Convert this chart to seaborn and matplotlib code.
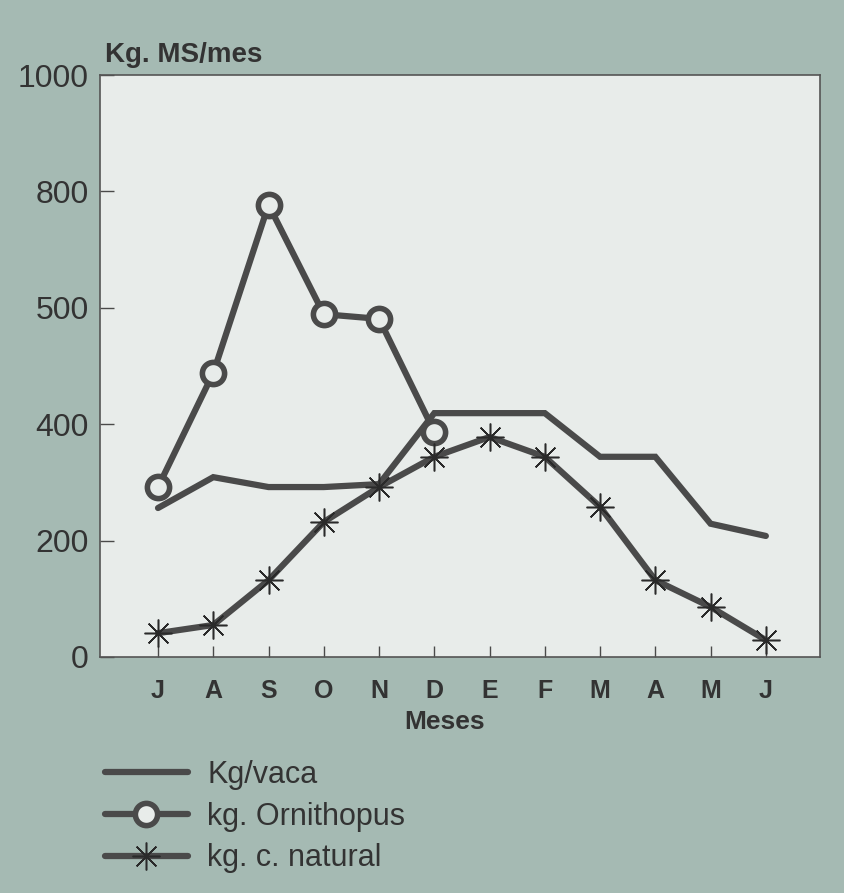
import numpy as np
import pandas as pd
import matplotlib
matplotlib.use("Agg")
import matplotlib.pyplot as plt
import seaborn as sns

meses = ["J", "A", "S", "O", "N", "D", "E", "F", "M", "A", "M", "J"]
kg_vaca = [256, 309, 292, 292, 297, 419, 419, 419, 344, 344, 229, 208]
kg_ornithopus = [292, 488, 777, 589, 581, 387]
kg_natural = [41, 55, 132, 232, 292, 344, 378, 344, 258, 132, 86, 29]
y_ticks = [0, 200, 400, 600, 800, 1000]
y_labels = ["0", "200", "400", "500", "800", "1000"]

OUTER = "#a5bab3"
INNER = "#e8ecea"
INK = "#4a4a4a"
TXT = "#333333"

sns.set_theme(style="white")
plt.rcParams["font.family"] = ["Liberation Sans", "DejaVu Sans"]

fig = plt.figure(figsize=(8.45, 8.93), dpi=100, facecolor=OUTER)
ax = fig.add_axes([100 / 845, 1 - 657 / 893, 720 / 845, 582 / 893])
ax.set_facecolor(INNER)

x_all = np.arange(len(meses))
df_vaca = pd.DataFrame({"x": x_all, "y": kg_vaca})
df_orn = pd.DataFrame({"x": x_all[:len(kg_ornithopus)], "y": kg_ornithopus})
df_nat = pd.DataFrame({"x": x_all, "y": kg_natural})

sns.lineplot(data=df_vaca, x="x", y="y", ax=ax, color=INK, lw=4.5,
             label="Kg/vaca", solid_joinstyle="miter")
sns.lineplot(data=df_orn, x="x", y="y", ax=ax, color=INK, lw=4.5,
             marker="o", markersize=16, markerfacecolor=INNER,
             markeredgecolor=INK, markeredgewidth=4, label="kg. Ornithopus")
sns.lineplot(data=df_nat, x="x", y="y", ax=ax, color=INK, lw=4.5,
             marker=(8, 2, 0), markersize=20, markeredgecolor="#2a2a2a",
             markeredgewidth=1.1, label="kg. c. natural")

ax.set_xlim(-1.05, 11.98)
ax.set_ylim(0, 1000)
ax.set_xticks(x_all)
ax.set_xticklabels(meses, fontsize=18, fontweight="bold", color=TXT)
ax.set_yticks(y_ticks)
ax.set_yticklabels(y_labels, fontsize=23, color=TXT)
ax.tick_params(axis="x", bottom=True, direction="in", length=8, width=1,
               color=INK, pad=16)
ax.tick_params(axis="y", left=True, direction="in", length=10, width=1,
               color=INK, pad=8)
ax.set_xlabel("")
ax.set_ylabel("")
for s in ax.spines.values():
    s.set_color("#555555")
    s.set_linewidth(1.2)

fig.text(105 / 845, 1 - 55 / 893, "Kg. MS/mes", fontsize=20, fontweight="bold",
         color=TXT, va="center", ha="left")
fig.text(445 / 845, 1 - 722 / 893, "Meses", fontsize=19, fontweight="bold",
         color=TXT, va="center", ha="center")

handles, labels = ax.get_legend_handles_labels()
ax.get_legend().remove()
fig.legend(handles, labels, loc="upper left",
           bbox_to_anchor=(105 / 845, 1 - 760 / 893), frameon=False,
           fontsize=22, handlelength=2.7, handletextpad=0.65,
           labelspacing=0.38, borderpad=0, borderaxespad=0, labelcolor=TXT)

fig.savefig("out.png", dpi=100, facecolor=OUTER)
